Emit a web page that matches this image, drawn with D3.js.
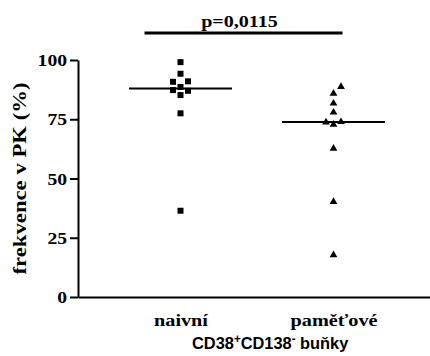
<!DOCTYPE html>
<html><head><meta charset="utf-8">
<script src="https://cdn.jsdelivr.net/npm/d3@7"></script>
<style>body{margin:0;background:#fff}</style>
</head><body><svg id="c" width="430" height="356"></svg>
<script>
const categories = ["naivní", "paměťové"];
const naiveValues = [99.1, 94.2, 90.8, 91.0, 88.6, 87.3, 87.0, 85.2, 77.5, 36.4];
const naiveJitter = [0, 0, -1, 1, 0, -1, 1, 0, 0, 0];
const memoryValues = [88.7, 85.9, 81.7, 77.9, 73.7, 73.9, 72.8, 62.7, 40.2, 17.7];
const memoryJitter = [1, 0, 0, 0, -1, 1, 0, 0, 0, 0];
const yTicks = [0, 25, 50, 75, 100];
const pLabel = "p=0,0115";
const yTitle = "frekvence v PK (%)";

const serif = "Liberation Serif";
const sans = "Liberation Sans";
const svg = d3.select("#c");
const mLeft = 78, mTop = 60, mBottom = 297;

const x = d3.scalePoint().domain(categories).range([mLeft, 436]).padding(0.67);
const y = d3.scaleLinear().domain([0, 100]).range([mBottom, mTop]);
const jx = d3.scaleLinear().domain([-1, 1]).range([-7.5, 7.5]);

function stretch(sel, k) {
  sel.each(function () {
    const w = this.getComputedTextLength();
    d3.select(this).attr("textLength", w * k).attr("lengthAdjust", "spacingAndGlyphs");
  });
}

// Y axis
const gy = svg.append("g").attr("transform", `translate(${mLeft},0)`)
  .call(d3.axisLeft(y).tickValues(yTicks).tickSize(8).tickSizeOuter(0).tickPadding(3).tickFormat(d3.format("d")));
gy.select(".domain").attr("stroke", "#000").attr("stroke-width", 2);
gy.selectAll(".tick line").attr("stroke", "#000").attr("stroke-width", 2);
gy.selectAll(".tick text").attr("font-family", serif).attr("font-weight", "bold")
  .attr("font-size", 16.5).attr("fill", "#000").attr("dy", "0.34em");
stretch(gy.selectAll(".tick text"), 1.19);

// X axis
const gx = svg.append("g").attr("transform", `translate(0,${mBottom})`)
  .call(d3.axisBottom(x).tickSize(0).tickSizeOuter(0).tickPadding(17));
gx.select(".domain").attr("stroke", "#000").attr("stroke-width", 2);
gx.selectAll(".tick text").attr("font-family", serif).attr("font-weight", "bold")
  .attr("font-size", 17).attr("fill", "#000");
stretch(gx.selectAll(".tick text"), 1.19);

// Y title
const yt = svg.append("text").attr("transform", `translate(26,${(mTop + mBottom) / 2}) rotate(-90)`)
  .attr("text-anchor", "middle").attr("font-family", serif).attr("font-weight", "bold")
  .attr("font-size", 18).attr("fill", "#000").text(yTitle);
yt.attr("textLength", 192).attr("lengthAdjust", "spacingAndGlyphs");

// X title with superscripts
const xt = svg.append("text").attr("font-family", sans)
  .attr("font-weight", "bold").attr("font-size", 17).attr("fill", "#000");
xt.append("tspan").text("CD38");
xt.append("tspan").attr("font-size", 12).attr("dy", -6).text("+");
xt.append("tspan").attr("dy", 6).text("CD138");
xt.append("tspan").attr("font-size", 12).attr("dy", -6).text("-");
xt.append("tspan").attr("dy", 6).text(" buňky");
const bb = xt.node().getBBox();
const k = 157 / bb.width;
xt.attr("transform", `translate(${192 - bb.x * k},349) scale(${k},1)`);

// p-value bracket
const bx1 = x(categories[0]) - 36, bx2 = x(categories[1]) + 9;
svg.append("line").attr("x1", bx1).attr("x2", bx2).attr("y1", 33).attr("y2", 33)
  .attr("stroke", "#000").attr("stroke-width", 3);
const pt = svg.append("text").attr("x", (bx1 + bx2) / 2 - 4).attr("y", 27).attr("text-anchor", "middle")
  .attr("font-family", serif).attr("font-weight", "bold").attr("font-size", 17).attr("fill", "#000").text(pLabel);
stretch(pt, 1.18);

// Data
const groups = [
  { cat: categories[0], values: naiveValues, jitter: naiveJitter, sym: d3.symbolSquare, size: 36 },
  { cat: categories[1], values: memoryValues, jitter: memoryJitter, sym: d3.symbolTriangle, size: 26 }
];
groups.forEach(g => {
  const cx = x(g.cat);
  const med = d3.median(g.values);
  svg.append("line").attr("x1", cx - 51.5).attr("x2", cx + 51.5)
    .attr("y1", y(med)).attr("y2", y(med)).attr("stroke", "#000").attr("stroke-width", 2);
  svg.append("g").selectAll("path").data(g.values).join("path")
    .attr("d", d3.symbol().type(g.sym).size(g.size))
    .attr("transform", (d, i) => `translate(${cx + jx(g.jitter[i])},${y(d)})`)
    .attr("fill", "#000");
});
</script></body></html>
